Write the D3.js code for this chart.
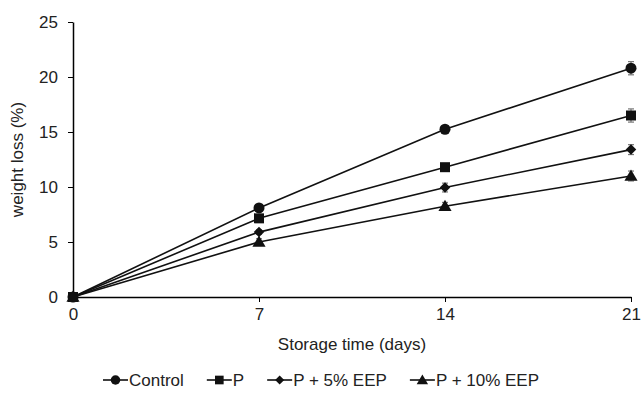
<!DOCTYPE html>
<html>
<head>
<meta charset="utf-8">
<script src="https://cdn.jsdelivr.net/npm/d3@7"></script>
<style>
  body { margin: 0; background: #fff; }
  svg text { font-family: "Liberation Sans", Arial, sans-serif; fill: #222; }
</style>
</head>
<body>
<svg id="chart" width="641" height="404"></svg>
<script>
// weight loss over storage time, four coating treatments
const days = [0, 7, 14, 21];
const seriesNames = ['Control', 'P', 'P + 5% EEP', 'P + 10% EEP'];
const controlValues = [0, 8.1, 15.25, 20.8];
const pValues = [0, 7.15, 11.8, 16.5];
const eep5Values = [0, 5.9, 9.95, 13.4];
const eep10Values = [0, 5.0, 8.25, 11.0];
const controlErr = [0, 0.2, 0.3, 0.6];
const pErr = [0, 0.2, 0.3, 0.6];
const eep5Err = [0, 0.2, 0.4, 0.45];
const eep10Err = [0, 0.3, 0.35, 0.45];
const yTicks = [0, 5, 10, 15, 20, 25];

const markers = [d3.symbolCircle, d3.symbolSquare, d3.symbolDiamond2, d3.symbolTriangle];
const markerSizes = [95, 100, 70, 75];

const series = [
  { name: seriesNames[0], values: controlValues, err: controlErr },
  { name: seriesNames[1], values: pValues, err: pErr },
  { name: seriesNames[2], values: eep5Values, err: eep5Err },
  { name: seriesNames[3], values: eep10Values, err: eep10Err },
];

const svg = d3.select('#chart');
const x = d3.scalePoint().domain(days).range([73, 631]);
const y = d3.scaleLinear().domain([0, 25]).range([297, 22]);

// axes
const xAxis = svg.append('g')
  .attr('transform', `translate(0,${y(0)})`)
  .call(d3.axisBottom(x).tickSize(5).tickSizeOuter(0).tickPadding(6));
const yAxis = svg.append('g')
  .attr('transform', `translate(${x(0)},0)`)
  .call(d3.axisLeft(y).tickValues(yTicks).tickSize(5).tickSizeOuter(0).tickPadding(10));

[xAxis, yAxis].forEach((g) => {
  g.select('.domain').attr('stroke', '#000').attr('stroke-width', 1.5);
  g.selectAll('.tick line').attr('stroke', '#000');
  g.selectAll('.tick text').style('font-size', '17px').attr('fill', '#222');
});
xAxis.selectAll('.tick line').filter((d) => d === 0).remove();

svg.append('text')
  .attr('x', (x(0) + x(21)) / 2)
  .attr('y', 350)
  .attr('text-anchor', 'middle')
  .style('font-size', '17px')
  .text('Storage time (days)');

svg.append('text')
  .attr('transform', `translate(23,${(y(0) + y(25)) / 2}) rotate(-90)`)
  .attr('text-anchor', 'middle')
  .style('font-size', '17px')
  .text('weight loss (%)');

// error bars
const errGroup = svg.append('g');
series.forEach((s) => {
  days.forEach((d, i) => {
    if (!s.err[i]) return;
    const cx = x(d);
    const y1 = y(s.values[i] + s.err[i]);
    const y2 = y(s.values[i] - s.err[i]);
    const g = errGroup.append('g').attr('stroke', '#777').attr('stroke-width', 1.2);
    g.append('line').attr('x1', cx).attr('x2', cx).attr('y1', y1).attr('y2', y2);
    g.append('line').attr('x1', cx - 3).attr('x2', cx + 3).attr('y1', y1).attr('y2', y1);
    g.append('line').attr('x1', cx - 3).attr('x2', cx + 3).attr('y1', y2).attr('y2', y2);
  });
});

// lines and markers
const line = d3.line().x((d, i) => x(days[i])).y((d) => y(d));
series.forEach((s, k) => {
  svg.append('path')
    .attr('d', line(s.values))
    .attr('fill', 'none')
    .attr('stroke', '#111')
    .attr('stroke-width', 1.6);
  svg.selectAll(null)
    .data(s.values)
    .join('path')
    .attr('transform', (d, i) => `translate(${x(days[i])},${y(d) + (k === 3 ? 1 : 0)})`)
    .attr('d', d3.symbol().type(markers[k]).size(markerSizes[k]))
    .attr('fill', '#111');
});

// legend
const legend = svg.append('g').attr('transform', 'translate(103,380)');
let offset = 0;
series.forEach((s, k) => {
  const item = legend.append('g').attr('transform', `translate(${offset},0)`);
  item.append('line').attr('x1', 0).attr('x2', 25).attr('y1', 0).attr('y2', 0)
    .attr('stroke', '#111').attr('stroke-width', 1.6);
  item.append('path')
    .attr('transform', `translate(12.5,${k === 3 ? 1 : 0})`)
    .attr('d', d3.symbol().type(markers[k]).size(markerSizes[k] * 0.75))
    .attr('fill', '#111');
  const label = item.append('text')
    .attr('x', 26)
    .attr('y', 6)
    .style('font-size', '17px')
    .text(s.name);
  offset += 26 + label.node().getComputedTextLength() + 23;
});
</script>
</body>
</html>
